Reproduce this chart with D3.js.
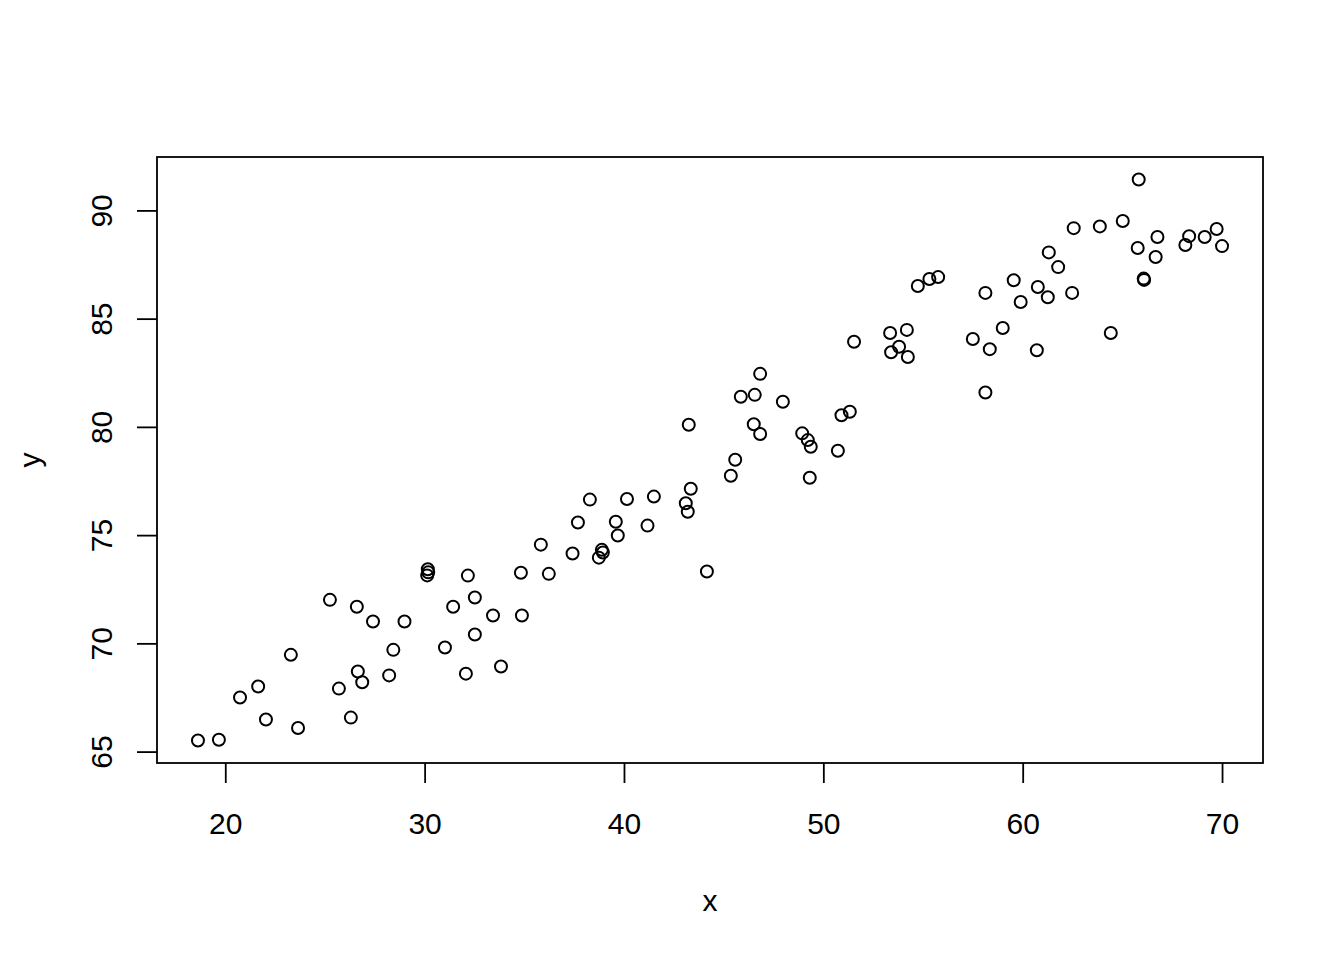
<!DOCTYPE html>
<html>
  <head>
    <meta charset="utf-8">
    <title>Scatter x y</title>
    <script src="https://d3js.org/d3.v7.min.js" charset="utf-8"></script>
    <style>
      body { margin: 0; background: #fff; }
      text { font-family: "Liberation Sans", Arial, sans-serif; fill: #000; }
    </style>
  </head>
  <body>
    <div id="scatter"></div>

    <script>
      // values
      const xs = [18.63, 19.68, 20.74, 21.65, 22.04, 23.29, 23.65, 25.25, 25.70, 26.30,
                  26.60, 26.65, 26.87, 27.41, 28.22, 28.43, 28.99, 30.16, 30.18, 30.13,
                  31.02, 31.43, 32.07, 32.17, 32.52, 32.52, 33.43, 33.83, 34.83, 34.88,
                  35.83, 36.23, 37.42, 37.69, 38.29, 38.89, 38.94, 38.74, 39.59, 39.69,
                  40.15, 41.18, 41.50, 43.10, 43.20, 43.25, 43.35, 44.16, 45.36, 45.58,
                  45.86, 46.51, 46.56, 46.83, 46.83, 47.97, 48.94, 49.22, 49.37, 49.32,
                  50.73, 50.91, 51.33, 51.54, 53.35, 53.40, 53.80, 54.19, 54.24, 54.74,
                  55.32, 55.76, 57.50, 58.13, 58.13, 58.35, 59.00, 59.55, 59.90, 60.71,
                  60.76, 61.26, 61.31, 61.78, 62.48, 62.56, 63.87, 64.42, 65.02, 65.82,
                  65.77, 66.07, 66.09, 66.67, 66.76, 68.16, 68.35, 69.13, 69.73, 70.00];
      const ys = [65.51, 65.55, 67.50, 68.01, 66.48, 69.47, 66.09, 72.01, 67.91, 66.57,
                  71.69, 68.70, 68.20, 71.01, 68.52, 69.70, 71.01, 73.42, 73.28, 73.14,
                  69.81, 71.69, 68.60, 73.13, 72.12, 70.41, 71.29, 68.93, 73.26, 71.29,
                  74.56, 73.21, 74.15, 75.58, 76.64, 74.32, 74.20, 73.96, 75.62, 74.98,
                  76.67, 75.44, 76.78, 76.47, 76.08, 80.10, 77.14, 73.32, 77.74, 78.48,
                  81.39, 80.12, 81.48, 82.45, 79.67, 81.16, 79.70, 79.39, 79.08, 77.65,
                  78.90, 80.54, 80.70, 83.93, 84.34, 83.45, 83.70, 84.48, 83.23, 86.51,
                  86.83, 86.92, 84.06, 86.19, 81.59, 83.59, 84.57, 86.77, 85.77, 83.54,
                  86.46, 85.99, 88.06, 87.38, 86.19, 89.18, 89.26, 84.34, 89.51, 91.43,
                  88.26, 86.85, 86.79, 87.85, 88.77, 88.40, 88.81, 88.77, 89.14, 88.35];
      const xTicks = [20, 30, 40, 50, 60, 70];
      const yTicks = [65, 70, 75, 80, 85, 90];
      const xLabel = "x";
      const yLabel = "y";

      const data = xs.map((x, i) => ({ x: x, y: ys[i] }));

      const outerWidth = 1344;
      const outerHeight = 960;
      const box = { left: 157, right: 1263, top: 157, bottom: 763 };
      const fontSize = 30;
      const lw = 1.8;

      // R style: pad the data range by 4% on each side
      const pad = (ext) => {
        const span = ext[1] - ext[0];
        return [ext[0] - 0.04 * span, ext[1] + 0.04 * span];
      };

      const x = d3.scaleLinear()
        .domain(pad(d3.extent(data, d => d.x)))
        .range([box.left, box.right]);

      const y = d3.scaleLinear()
        .domain(pad(d3.extent(data, d => d.y)))
        .range([box.bottom, box.top]);

      const svg = d3.select("#scatter")
        .append("svg")
        .attr("width", outerWidth)
        .attr("height", outerHeight);

      svg.append("rect")
        .attr("width", outerWidth)
        .attr("height", outerHeight)
        .attr("fill", "#fff");

      // x axis
      const xAxis = svg.append("g")
        .attr("transform", "translate(0," + box.bottom + ")")
        .call(d3.axisBottom(x).tickValues(xTicks).tickSize(20).tickPadding(0).tickSizeOuter(0));
      xAxis.select(".domain").remove();
      xAxis.selectAll(".tick line").attr("stroke", "#000").attr("stroke-width", lw);
      xAxis.selectAll(".tick text")
        .attr("font-size", fontSize)
        .attr("font-family", null)
        .attr("y", 71)
        .attr("dy", null);

      // y axis, labels turned like R's default
      const yAxis = svg.append("g")
        .attr("transform", "translate(" + box.left + ",0)")
        .call(d3.axisLeft(y).tickValues(yTicks).tickSize(20).tickSizeOuter(0));
      yAxis.select(".domain").remove();
      yAxis.selectAll(".tick line").attr("stroke", "#000").attr("stroke-width", lw);
      yAxis.selectAll(".tick text")
        .attr("font-size", fontSize)
        .attr("font-family", null)
        .attr("x", null)
        .attr("dy", null)
        .attr("text-anchor", "middle")
        .attr("transform", "translate(-45,0) rotate(-90)");

      // plot box
      svg.append("rect")
        .attr("x", box.left)
        .attr("y", box.top)
        .attr("width", box.right - box.left)
        .attr("height", box.bottom - box.top)
        .attr("fill", "none")
        .attr("stroke", "#000")
        .attr("stroke-width", lw);

      // axis titles
      svg.append("text")
        .attr("x", (box.left + box.right) / 2)
        .attr("y", 911)
        .attr("text-anchor", "middle")
        .attr("font-size", fontSize)
        .text(xLabel);

      svg.append("text")
        .attr("transform", "translate(40," + (box.top + box.bottom) / 2 + ") rotate(-90)")
        .attr("text-anchor", "middle")
        .attr("font-size", fontSize)
        .text(yLabel);

      // points
      svg.append("g")
        .selectAll("circle")
        .data(data)
        .join("circle")
        .attr("cx", d => x(d.x))
        .attr("cy", d => y(d.y))
        .attr("r", 6)
        .attr("fill", "none")
        .attr("stroke", "#000")
        .attr("stroke-width", 2);
    </script>
  </body>
</html>
